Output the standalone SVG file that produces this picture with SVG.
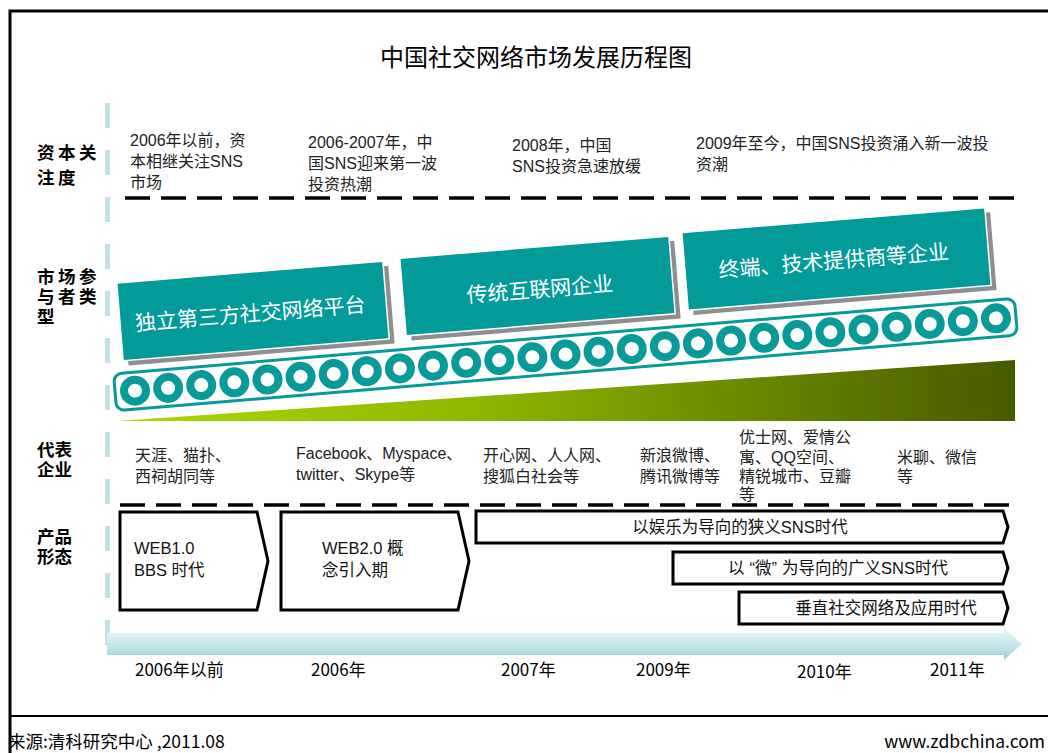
<svg xmlns="http://www.w3.org/2000/svg" width="1048" height="753" viewBox="0 0 1048 753">
<defs>
<linearGradient id="wedgeGrad" x1="117" y1="0" x2="1015" y2="0" gradientUnits="userSpaceOnUse">
<stop offset="0" stop-color="#afd800"/>
<stop offset="0.4" stop-color="#8db700"/>
<stop offset="1" stop-color="#465a00"/>
</linearGradient>
<linearGradient id="barGrad" x1="0" y1="0" x2="0" y2="1">
<stop offset="0" stop-color="#eaf8fa"/>
<stop offset="0.3" stop-color="#d4eff3"/>
<stop offset="0.75" stop-color="#b6dee4"/>
<stop offset="1" stop-color="#8fc6ce"/>
</linearGradient>
<circle id="ring" r="11" fill="#fff" stroke="#079a98" stroke-width="8"/>
</defs>
<style>
.lbl{font-family:"Liberation Sans","Noto Sans CJK SC",sans-serif;font-weight:bold;font-size:17.5px;fill:#000}
.sp{letter-spacing:3.5px}
.txt{font-family:"Liberation Sans","Noto Sans CJK SC",sans-serif;font-size:16px;fill:#222}
.box{fill:#039b99;stroke:#fff;stroke-width:1.5}
.shadow{fill:#8e8e8e}
.btxt{font-family:"Noto Sans CJK SC",sans-serif;font-size:21px;fill:#fff;text-anchor:middle}
.prod{fill:#fff;stroke:#000;stroke-width:3}
.ptxt{font-family:"Liberation Sans","Noto Sans CJK SC",sans-serif;font-size:16.5px;fill:#111}
.dash{stroke:#000;stroke-width:3.5;stroke-dasharray:25 11;fill:none}
.year{font-family:"Noto Sans CJK SC",sans-serif;font-size:17px;fill:#000}
.foot{font-family:"Noto Sans CJK SC",sans-serif;font-size:17.5px;fill:#000}
</style>
<rect width="1048" height="753" fill="#fff"/>
<g id="frame">
<path d="M10,753 V11 H1048" stroke="#000" stroke-width="3" fill="none"/>
<line x1="10" y1="716" x2="1048" y2="716" stroke="#000" stroke-width="2"/>
</g>
<text id="title" x="536" y="66" text-anchor="middle" style="font-family:'Noto Sans CJK SC',sans-serif;font-size:24px;fill:#000">中国社交网络市场发展历程图</text>
<g id="axis-left">
<line x1="107.5" y1="103" x2="107.5" y2="650" stroke="#c3e1e5" stroke-width="5" stroke-dasharray="25 22"/>
</g>
<g id="row-labels">
<text class="lbl sp" x="37" y="159">资本关<tspan x="37" dy="25">注度</tspan></text>
<text class="lbl sp" x="37" y="283">市场参<tspan x="37" dy="20">与者类</tspan><tspan x="37" dy="20">型</tspan></text>
<text class="lbl" x="37" y="456">代表<tspan x="37" dy="20">企业</tspan></text>
<text class="lbl" x="37" y="543">产品<tspan x="37" dy="20">形态</tspan></text>
</g>
<g id="capital">
<text class="txt" x="130" y="146">2006年以前，资<tspan x="130" dy="21">本相继关注SNS</tspan><tspan x="130" dy="21">市场</tspan></text>
<text class="txt" x="308" y="148">2006-2007年，中<tspan x="308" dy="21">国SNS迎来第一波</tspan><tspan x="308" dy="21">投资热潮</tspan></text>
<text class="txt" x="512" y="151">2008年，中国<tspan x="512" dy="21">SNS投资急速放缓</tspan></text>
<text class="txt" x="696" y="149">2009年至今，中国SNS投资涌入新一波投<tspan x="696" dy="21">资潮</tspan></text>
</g>
<g id="connectors">
<line class="dash" x1="125" y1="198" x2="1018" y2="198"/>
<line class="dash" x1="120" y1="505" x2="1018" y2="505"/>
</g>
<g id="wedge">
<polygon points="117,421 1015,360 1015,421" fill="url(#wedgeGrad)"/>
</g>
<g id="chain" transform="translate(565.5,354.5) rotate(-4.8)">
<rect x="-452" y="-18.5" width="904" height="37" rx="8" fill="#fff" stroke="#079a98" stroke-width="3"/>
<use href="#ring" x="-432"/><use href="#ring" x="-398.77"/><use href="#ring" x="-365.54"/><use href="#ring" x="-332.31"/><use href="#ring" x="-299.08"/><use href="#ring" x="-265.85"/><use href="#ring" x="-232.62"/><use href="#ring" x="-199.39"/><use href="#ring" x="-166.16"/><use href="#ring" x="-132.93"/><use href="#ring" x="-99.7"/><use href="#ring" x="-66.47"/><use href="#ring" x="-33.24"/><use href="#ring" x="0"/><use href="#ring" x="33.23"/><use href="#ring" x="66.46"/><use href="#ring" x="99.69"/><use href="#ring" x="132.92"/><use href="#ring" x="166.15"/><use href="#ring" x="199.38"/><use href="#ring" x="232.61"/><use href="#ring" x="265.84"/><use href="#ring" x="299.07"/><use href="#ring" x="332.3"/><use href="#ring" x="365.53"/><use href="#ring" x="398.76"/><use href="#ring" x="432"/>
</g>
<g id="box1" transform="translate(253,311) rotate(-4.7)">
<rect class="shadow" x="-128.5" y="-34" width="267" height="78"/>
<rect class="box" x="-133.5" y="-39" width="267" height="78"/>
<text class="btxt" x="-3" y="10">独立第三方社交网络平台</text>
</g>
<g id="box2" transform="translate(537.5,286) rotate(-4.7)">
<rect class="shadow" x="-130" y="-34" width="270" height="78"/>
<rect class="box" x="-135" y="-39" width="270" height="78"/>
<text class="btxt" x="2" y="11">传统互联网企业</text>
</g>
<g id="box3" transform="translate(836.5,259) rotate(-4.7)">
<rect class="shadow" x="-147" y="-34" width="304" height="78"/>
<rect class="box" x="-152" y="-39" width="304" height="78"/>
<text class="btxt" x="-3" y="9">终端、技术提供商等企业</text>
</g>
<g id="companies">
<text class="txt" x="135" y="461">天涯、猫扑、<tspan x="135" dy="21">西祠胡同等</tspan></text>
<text class="txt" x="296" y="459">Facebook、Myspace、<tspan x="296" dy="21">twitter、Skype等</tspan></text>
<text class="txt" x="483" y="461">开心网、人人网、<tspan x="483" dy="21">搜狐白社会等</tspan></text>
<text class="txt" x="640" y="461">新浪微博、<tspan x="640" dy="21">腾讯微博等</tspan></text>
<text class="txt" x="739" y="443">优士网、爱情公<tspan x="739" dy="20">寓、QQ空间、</tspan><tspan x="739" dy="19">精锐城市、豆瓣</tspan><tspan x="739" dy="18">等</tspan></text>
<text class="txt" x="897" y="463">米聊、微信<tspan x="897" dy="19">等</tspan></text>
</g>
<g id="prodA">
<path class="prod" d="M120,512 H257 L268,561 L257,610 H120 Z"/>
<text class="ptxt" x="134" y="554">WEB1.0<tspan x="134" dy="22">BBS 时代</tspan></text>
</g>
<g id="prodB">
<path class="prod" d="M281,512 H458 L469,561 L458,610 H281 Z"/>
<text class="ptxt" x="322" y="554">WEB2.0 概<tspan x="322" dy="22">念引入期</tspan></text>
</g>
<g id="prodC">
<path class="prod" d="M476,511 H1003 L1008,527 L1003,543 H476 Z"/>
<text class="ptxt" x="740" y="533" text-anchor="middle">以娱乐为导向的狭义SNS时代</text>
</g>
<g id="prodD">
<path class="prod" d="M673,552 H1003 L1008,568 L1003,584 H673 Z"/>
<text class="ptxt" x="838" y="574" text-anchor="middle">以<tspan dx="5">“</tspan>微”<tspan dx="5">为导向的广义SNS时代</tspan></text>
</g>
<g id="prodE">
<path class="prod" d="M739,592 H1003 L1008,608 L1003,624 H739 Z"/>
<text class="ptxt" x="886" y="614" text-anchor="middle">垂直社交网络及应用时代</text>
</g>
<g id="timeline">
<path d="M107,633 H1004 V628 L1022,644 L1004,660 V655 H107 Z" fill="url(#barGrad)"/>
<text class="year" x="135" y="676">2006年以前</text>
<text class="year" x="311" y="676">2006年</text>
<text class="year" x="501" y="676">2007年</text>
<text class="year" x="636" y="676">2009年</text>
<text class="year" x="797" y="678">2010年</text>
<text class="year" x="930" y="676">2011年</text>
</g>
<g id="footer">
<text class="foot" x="8" y="748">来源:清科研究中心 ,2011.08</text>
<text class="foot" x="1045" y="748" text-anchor="end">www.zdbchina.com</text>
</g>
</svg>
